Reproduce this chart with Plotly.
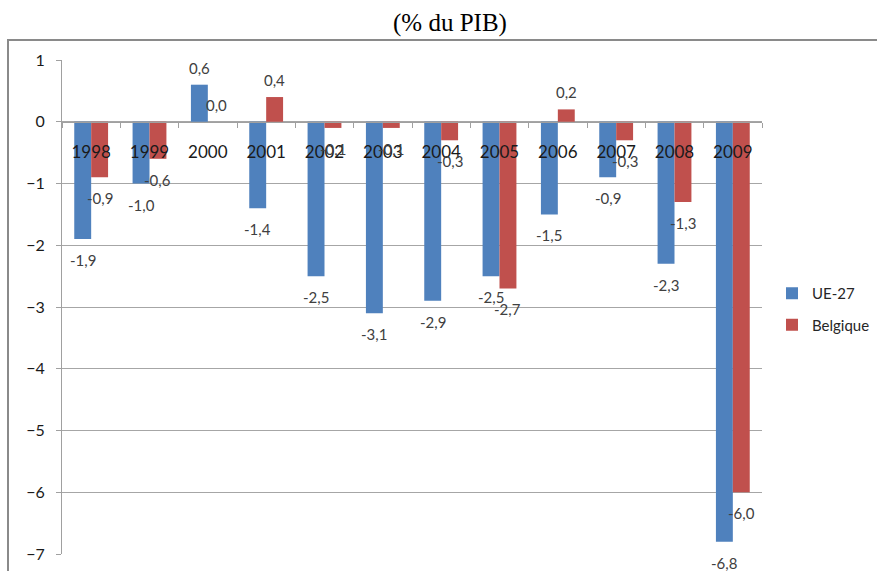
import plotly.graph_objects as go

# Budget balance, % of GDP
years = ["1998", "1999", "2000", "2001", "2002", "2003", "2004", "2005", "2006", "2007", "2008", "2009"]
ue27 = [-1.9, -1.0, 0.6, -1.4, -2.5, -3.1, -2.9, -2.5, -1.5, -0.9, -2.3, -6.8]
belgique = [-0.9, -0.6, 0.0, 0.4, -0.1, -0.1, -0.3, -2.7, 0.2, -0.3, -1.3, -6.0]

series_names = ["UE-27", "Belgique"]
series_values = [ue27, belgique]
series_colors = ["#4F81BD", "#C0504D"]

y_range = [-7, 1]
y_ticks = list(range(-7, 2))

W, H = 877, 571
ML, MR, MT, MB = 62, 115, 60, 17
FONT = "Lato, Calibri, Carlito, sans-serif"

fig = go.Figure()
for i, (name, vals, col) in enumerate(zip(series_names, series_values, series_colors)):
    fig.add_trace(go.Bar(
        x=years, y=vals, name=name, marker_color=col,
        marker_line_width=0, offsetgroup=str(i), legendgroup=name,
    ))

# value labels at the outer end of each bar
plot_w = W - ML - MR
plot_h = H - MT - MB
cat_w = plot_w / len(years)
bar_gap = 0.42
bar_w = cat_w * (1 - bar_gap) / 2
annotations = []
for i, vals in enumerate(series_values):
    dx = (i - 0.5) * bar_w
    for k, v in enumerate(vals):
        annotations.append(dict(
            x=k, y=v, xref="x", yref="y",
            text=f"{v:.1f}".replace(".", ","),
            showarrow=False, xshift=dx,
            yshift=17 if v >= 0 else -21,
            xanchor="center", yanchor="middle",
            font=dict(family=FONT, size=15, color="#404040"),
        ))

annotations.append(dict(
    text="(% du PIB)", x=(450 - ML) / plot_w, y=(H - MB - 23) / plot_h,
    xref="paper", yref="paper", showarrow=False,
    xanchor="center", yanchor="middle",
    font=dict(family="Liberation Serif, Times New Roman, serif", size=25, color="#000000"),
))

# chart-area frame
fig.add_shape(
    type="rect", xref="paper", yref="paper",
    x0=(8 - ML) / plot_w, x1=(W + 20 - ML) / plot_w,
    y0=-(MB + 20) / plot_h, y1=(H - MB - 40) / plot_h,
    line=dict(color="#8a8a8a", width=2), fillcolor="rgba(0,0,0,0)", layer="below",
)

zero_pos = (0 - y_range[0]) / (y_range[1] - y_range[0])

fig.update_layout(
    width=W, height=H,
    margin=dict(l=ML, r=MR, t=MT, b=MB, autoexpand=False),
    paper_bgcolor="white", plot_bgcolor="white",
    barmode="group", bargap=bar_gap, bargroupgap=0,
    annotations=annotations,
    showlegend=True,
    legend=dict(
        x=(772 - ML) / plot_w, y=(H - MB - 277) / plot_h, xanchor="left", yanchor="top",
        traceorder="grouped", tracegroupgap=9,
        font=dict(family=FONT, size=15, color="#262626"),
        itemwidth=30, bgcolor="rgba(0,0,0,0)",
    ),
    xaxis=dict(
        type="category", range=[-0.5, len(years) - 0.5], autorange=False,
        anchor="free", position=zero_pos,
        showline=True, linecolor="#a0a0a0", linewidth=1,
        ticks="outside", tickson="boundaries", ticklen=5, tickcolor="#a0a0a0",
        ticklabelstandoff=15,
        tickfont=dict(family=FONT, size=17, color="#1a1a1a"),
        showgrid=False, zeroline=False, layer="above traces",
    ),
    yaxis=dict(
        range=y_range, tickvals=y_ticks,
        showgrid=True, gridcolor="#a6a6a6", gridwidth=1,
        zeroline=False,
        showline=True, linecolor="#a0a0a0", linewidth=1,
        ticks="outside", ticklen=5, tickcolor="#a0a0a0",
        tickfont=dict(family=FONT, size=16, color="#1a1a1a"),
        ticklabelstandoff=8,
    ),
)

fig.write_html("out.html")
